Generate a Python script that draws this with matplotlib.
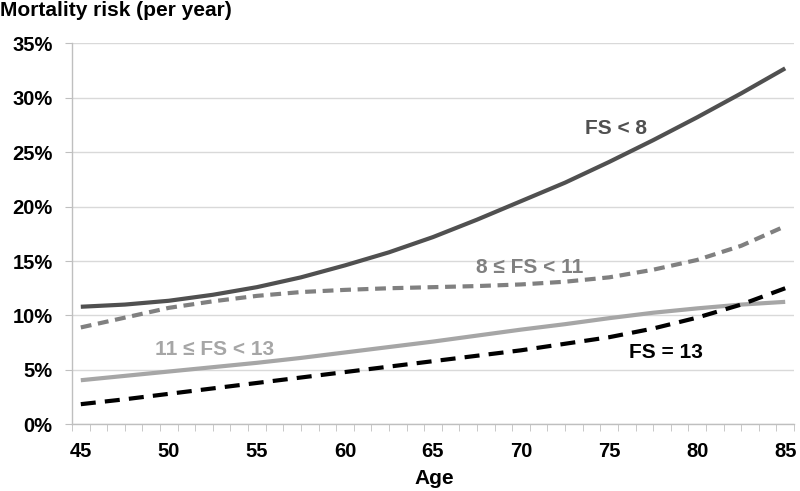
import matplotlib
matplotlib.use("Agg")
import matplotlib.pyplot as plt
import numpy as np

plt.rcParams['font.family'] = ['Liberation Sans', 'DejaVu Sans']

ages = [45, 47.5, 50, 52.5, 55, 57.5, 60, 62.5, 65, 67.5, 70, 72.5, 75, 77.5, 80, 82.5, 85]
fs_lt8 = [10.8, 11.0, 11.35, 11.9, 12.6, 13.5, 14.6, 15.8, 17.2, 18.8, 20.5, 22.2, 24.1, 26.1, 28.2, 30.4, 32.7]
fs_8_11 = [8.9, 9.8, 10.7, 11.3, 11.8, 12.15, 12.35, 12.5, 12.6, 12.7, 12.85, 13.1, 13.5, 14.2, 15.1, 16.4, 18.2]
fs_11_13 = [4.05, 4.45, 4.85, 5.25, 5.65, 6.1, 6.6, 7.1, 7.6, 8.15, 8.7, 9.2, 9.75, 10.25, 10.65, 11.0, 11.25]
fs_13 = [1.85, 2.3, 2.8, 3.3, 3.8, 4.3, 4.8, 5.3, 5.8, 6.3, 6.8, 7.4, 8.0, 8.8, 9.8, 11.0, 12.5]

x_labels = [45, 50, 55, 60, 65, 70, 75, 80, 85]
y_ticks = [0, 5, 10, 15, 20, 25, 30, 35]

fig = plt.figure(figsize=(8, 4.91), dpi=100)
ax = fig.add_axes([0.09, 0.1358, 0.9025, 0.776])

ax.plot(ages, fs_lt8, color='#505050', lw=3.0, solid_capstyle='butt', zorder=4)
ax.plot(ages, fs_8_11, color='#808080', lw=3.0, dashes=(2.6, 1.6), dash_capstyle='butt', zorder=4)
ax.plot(ages, fs_11_13, color='#a6a6a6', lw=3.0, solid_capstyle='butt', zorder=3)
ax.plot(ages, fs_13, color='#000000', lw=3.0, dashes=(3.6, 2.2), dash_capstyle='butt', zorder=5)

ax.set_xlim(44.5, 85.5)
ax.set_ylim(0, 35)
ax.set_xticks(x_labels)
ax.set_xticks(np.arange(44.5, 85.6, 1.0), minor=True)
ax.set_xticklabels([str(v) for v in x_labels], fontsize=14.5, fontweight='bold')
ax.set_yticks(y_ticks)
ax.set_yticklabels([f"{v}%" for v in y_ticks], fontsize=14.5, fontweight='bold')
ax.tick_params(axis='x', which='major', length=0, pad=13)
ax.tick_params(axis='x', which='minor', length=5, color='#bfbfbf', direction='out')
ax.tick_params(axis='y', which='major', length=5, color='#bfbfbf', pad=9)

ax.grid(axis='y', color='#d9d9d9', lw=1.0)
ax.set_axisbelow(True)
for s in ['top', 'right']:
    ax.spines[s].set_visible(False)
for s in ['left', 'bottom']:
    ax.spines[s].set_color('#bfbfbf')
    ax.spines[s].set_linewidth(1.0)

fig.text(434/800, 1 - 479/491, 'Age', fontsize=15, fontweight='bold', ha='center', va='center')
fig.text(0.0, 1 - 11/491, 'Mortality risk (per year)', fontsize=15, fontweight='bold', ha='left', va='center')

ax.text(75.4, 27.2, 'FS < 8', color='#505050', fontsize=15, fontweight='bold', ha='center', va='center')
ax.text(70.5, 14.4, '8 \u2264 FS < 11', color='#808080', fontsize=15, fontweight='bold', ha='center', va='center')
ax.text(52.6, 6.83, '11 \u2264 FS < 13', color='#a6a6a6', fontsize=15, fontweight='bold', ha='center', va='center')
ax.text(78.2, 6.58, 'FS = 13', color='#000000', fontsize=15, fontweight='bold', ha='center', va='center')

fig.savefig('out.png', dpi=100)
